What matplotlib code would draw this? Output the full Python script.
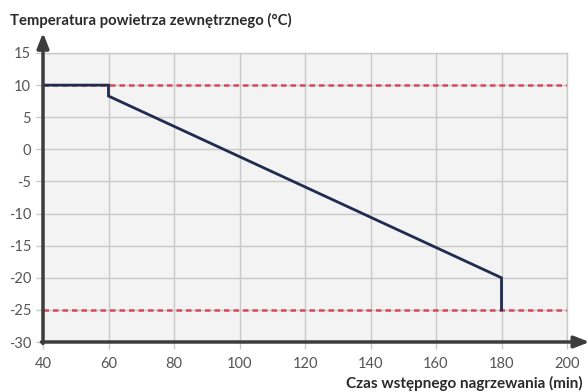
import matplotlib.pyplot as plt

# heating curve: outside temperature vs preheating time
time_min = [40, 60, 60, 180, 180]
temp_c = [10, 10, 8.3, -20, -25]

limit_levels = [10, -25]
x_ticks = [40, 60, 80, 100, 120, 140, 160, 180, 200]
y_ticks = [15, 10, 5, 0, -5, -10, -15, -20, -25, -30]

plt.rcParams['font.family'] = ['Lato', 'DejaVu Sans']
plt.rcParams['axes.unicode_minus'] = False

fig = plt.figure(figsize=(5.88, 3.92), dpi=100)
ax = fig.add_axes([43 / 588, 1 - 342 / 392, 524 / 588, 289 / 392])
ax.set_facecolor("#f3f3f3")

ax.set_xlim(40, 200)
ax.set_ylim(-30, 15)
ax.set_xticks(x_ticks)
ax.set_yticks(y_ticks)
ax.grid(True, color="#c9c9c9", linewidth=1)
ax.set_axisbelow(True)

for lvl in limit_levels:
    ax.axhline(lvl, color="#d9475c", linewidth=1.8, linestyle=(0, (2.2, 1.6)), zorder=2)

ax.plot(time_min, temp_c, color="#1f2b4f", linewidth=2, zorder=3,
        solid_joinstyle="miter")

for side in ("top", "right"):
    ax.spines[side].set_color("#c9c9c9")
    ax.spines[side].set_linewidth(1)
for side in ("left", "bottom"):
    ax.spines[side].set_visible(False)

# axis arrows
ax.annotate("", xy=(0, 1.07), xytext=(0, -0.005), xycoords="axes fraction",
            arrowprops=dict(arrowstyle="-|>,head_width=0.35,head_length=0.9",
                            color="#3c3c3c", lw=2.5, shrinkA=0, shrinkB=0),
            annotation_clip=False)
ax.annotate("", xy=(1.043, 0), xytext=(-0.003, 0), xycoords="axes fraction",
            arrowprops=dict(arrowstyle="-|>,head_width=0.35,head_length=0.9",
                            color="#3c3c3c", lw=2.5, shrinkA=0, shrinkB=0),
            annotation_clip=False)

ax.tick_params(axis="both", colors="#c9c9c9", labelcolor="#555555",
               labelsize=10.5, length=5, width=1)
ax.tick_params(axis="x", pad=6)

fig.text(10 / 588, 1 - 20 / 392, "Temperatura powietrza zewnętrznego (°C)",
         fontsize=10.7, fontweight="bold", color="#2a2a2a", va="center", ha="left")
fig.text(583 / 588, 1 - 383 / 392, "Czas wstępnego nagrzewania (min)",
         fontsize=11, fontweight="bold", color="#2a2a2a", va="center", ha="right")

fig.savefig("out.png", dpi=100)
